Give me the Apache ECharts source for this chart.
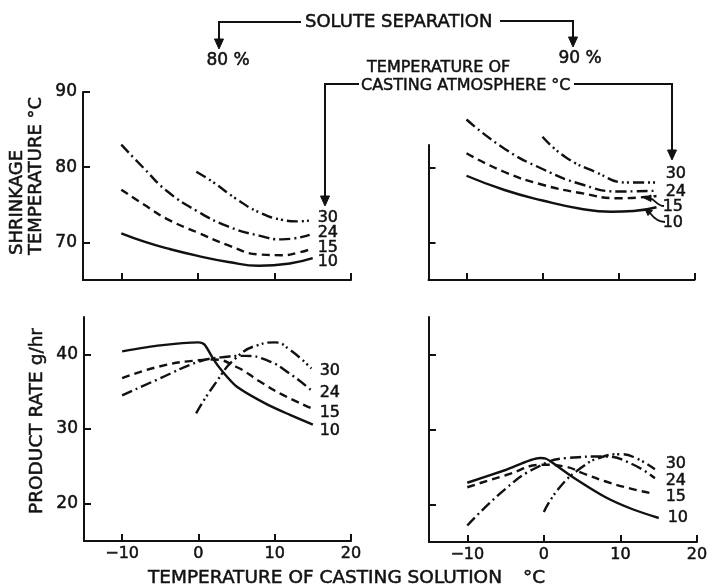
<!DOCTYPE html>
<html>
<head>
<meta charset="utf-8">
<script src="https://cdn.jsdelivr.net/npm/echarts@6/dist/echarts.min.js"></script>
<style>
  html, body { margin: 0; padding: 0; background: #fff; }
  #chart { width: 713px; height: 584px; }
</style>
</head>
<body>
<div id="chart"></div>
<script>
// temperature of casting atmosphere (°C), one curve each
const atmosTemps = ['10', '15', '24', '30'];
const xTicks = [-10, 0, 10, 20];
const shrinkTicks = [70, 80, 90];
const rateTicks = [20, 30, 40];

// shrinkage temperature, 80 % solute separation  [casting solution °C, shrinkage °C]
const shrink80_10 = [[-10, 71.2], [-7, 70.1], [-4, 69.2], [0, 68.2], [4, 67.4], [8, 66.9], [12, 67.2], [15, 67.9]];
const shrink80_15 = [[-10, 77.0], [-7, 75.0], [-4, 73.1], [0, 71.3], [4, 69.6], [8, 68.4], [11, 68.3], [13, 68.6], [15, 69.2]];
const shrink80_24 = [[-10, 83.0], [-7, 79.8], [-4, 76.8], [0, 74.1], [4, 72.1], [8, 70.9], [11, 70.4], [14.6, 71.0]];
const shrink80_30 = [[-0.2, 79.4], [2, 78.0], [5, 75.8], [8, 74.0], [11, 73.0], [13, 72.8], [14.6, 72.9]];

// shrinkage temperature, 90 % solute separation
const shrink90_10 = [[-10, 78.9], [-5, 77.0], [0, 75.6], [5, 74.5], [9, 74.1], [12, 74.2], [15, 74.7]];
const shrink90_15 = [[-10, 81.9], [-5, 79.4], [0, 77.7], [5, 76.6], [10, 75.9], [15, 76.2]];
const shrink90_24 = [[-10, 86.4], [-5, 82.5], [0, 79.8], [5, 77.8], [10, 76.8], [15, 76.9]];
const shrink90_30 = [[0, 84.1], [3, 81.4], [7, 79.4], [11, 78.0], [15, 78.0]];

// product rate g/hr, 80 % solute separation
const rate80_10 = [[-10, 40.4], [-5, 41.2], [0, 41.6], [0.8, 41.3], [2, 39.3], [3, 37.9], [5, 35.7], [9, 33.3], [12, 31.9], [15, 30.6]];
const rate80_15 = [[-10, 36.8], [-5, 38.4], [0, 39.2], [2, 39.3], [5, 38.3], [8, 36.4], [11, 34.6], [15, 32.7]];
const rate80_24 = [[-10, 34.5], [-5, 36.8], [0, 39.0], [3, 39.6], [6, 39.8], [9, 39.2], [12, 37.4], [15, 35.0]];
const rate80_30 = [[-0.3, 32.1], [2, 35.8], [5, 39.6], [8, 41.3], [10, 41.6], [12, 40.6], [14.8, 38.1]];

// product rate g/hr, 90 % solute separation
const rate90_10 = [[-10, 22.9], [-5, 24.6], [-0.5, 26.2], [0.3, 26.1], [1.5, 25.3], [4, 23.5], [8, 21.0], [11.5, 19.4], [15, 18.2]];
const rate90_15 = [[-10, 22.3], [-5, 23.9], [0, 25.3], [3, 25.0], [5, 24.2], [8, 23.1], [11, 22.2], [14, 21.5]];
const rate90_24 = [[-10, 17.2], [-5, 22.1], [-1, 24.9], [3, 26.2], [8, 26.4], [11.5, 25.4], [14.5, 23.5]];
const rate90_30 = [[0, 19.0], [2, 22.2], [5, 25.0], [7.5, 26.3], [10, 26.7], [12, 26.2], [14.5, 24.7]];

const FONT = 'DejaVu Sans';
const INK = '#111';

// dash patterns for 10 / 15 / 24 / 30
const dashes = ['solid', [8, 5], [11, 4, 2, 4], [11, 4, 2, 3, 2, 4]];

function xAxisCfg(gridIndex, showLabel) {
  return {
    type: 'value', gridIndex: gridIndex, min: -15, max: 20,
    axisLine: { show: true, onZero: false, lineStyle: { color: INK, width: 2 } },
    axisTick: { show: true, inside: true, length: 7, customValues: xTicks, lineStyle: { color: INK, width: 2 } },
    axisLabel: {
      show: showLabel, customValues: xTicks, margin: 5, color: INK, fontSize: 16, fontFamily: FONT,
      textBorderColor: INK, textBorderWidth: 0.5,
      formatter: v => (v < 0 ? '\u2212' + Math.abs(v) : String(v))
    },
    splitLine: { show: false }
  };
}

function yAxisCfg(gridIndex, min, max, ticks, showLabel) {
  return {
    type: 'value', gridIndex: gridIndex, min: min, max: max,
    axisLine: { show: true, onZero: false, lineStyle: { color: INK, width: 2 } },
    axisTick: { show: true, inside: true, length: 7, customValues: ticks, lineStyle: { color: INK, width: 2 } },
    axisLabel: {
      show: showLabel, customValues: ticks, margin: 6, color: INK, fontSize: 17, fontFamily: FONT,
      textBorderColor: INK, textBorderWidth: 0.5
    },
    splitLine: { show: false }
  };
}

function curve(name, data, idx, k, smooth) {
  return {
    name: name, type: 'line', xAxisIndex: idx, yAxisIndex: idx, data: data,
    smooth: smooth, showSymbol: false, clip: false, silent: true,
    lineStyle: { color: INK, width: 2.4, type: dashes[k] }
  };
}

const panels = [
  [shrink80_10, shrink80_15, shrink80_24, shrink80_30],
  [shrink90_10, shrink90_15, shrink90_24, shrink90_30],
  [rate80_10, rate80_15, rate80_24, rate80_30],
  [rate90_10, rate90_15, rate90_24, rate90_30]
];
const series = [];
panels.forEach((set, p) => set.forEach((d, k) => {
  // the 10 °C product-rate curves have a sharp knee, so smooth them less
  const s = (p >= 2 && k === 0) ? 0.25 : 0.5;
  series.push(curve(atmosTemps[k], d, p, k, s));
}));

function txt(x, y, text, size, align, rot) {
  return {
    type: 'text', x: x, y: y, rotation: rot || 0, silent: true,
    style: {
      text: text, fill: INK, stroke: INK, lineWidth: 0.5,
      font: size + 'px "' + FONT + '"', textAlign: align || 'left', textVerticalAlign: 'middle'
    }
  };
}
function pline(points) {
  return { type: 'polyline', silent: true, shape: { points: points }, style: { stroke: INK, lineWidth: 2, fill: null } };
}
function head(points) {
  return { type: 'polygon', silent: true, shape: { points: points }, style: { fill: INK, stroke: INK, lineWidth: 1 } };
}

// curve labels: [right edge x, centre y] for 10, 15, 24, 30 in each panel
const labelSpots = [
  [[338, 262], [338, 247.5], [338, 232.5], [338, 217.5]],
  [[683, 223.3], [683, 206.7], [686, 191.5], [686, 173.5]],
  [[340, 431], [340, 412.5], [340, 392.5], [340, 371]],
  [[688, 517.5], [686, 497], [686, 481], [686, 464]]
];
const curveLabels = [];
labelSpots.forEach(spots => spots.forEach((s, k) => curveLabels.push(txt(s[0], s[1], atmosTemps[k], 16, 'right'))));

const graphics = curveLabels.concat([
  txt(305, 22, 'SOLUTE SEPARATION', 18),
  pline([[301, 22], [219, 22], [219, 41]]),
  head([[214.5, 39], [223.5, 39], [219, 49]]),
  pline([[500, 21], [573, 21], [573, 39]]),
  head([[568.5, 37], [577.5, 37], [573, 47]]),
  txt(228, 61, '80 %', 17, 'center'),
  txt(580, 59, '90 %', 17, 'center'),
  txt(367, 67.5, 'TEMPERATURE OF', 16),
  txt(361, 86, 'CASTING ATMOSPHERE \u00B0C', 16),
  pline([[359, 84], [325, 84], [325, 198]]),
  head([[320.5, 196], [329.5, 196], [325, 206]]),
  pline([[574, 84], [672, 84], [672, 152]]),
  head([[667.5, 150], [676.5, 150], [672, 160]]),
  {
    type: 'bezierCurve', silent: true,
    shape: { x1: 664, y1: 206, cpx1: 657, cpy1: 206, cpx2: 655, cpy2: 199, x2: 650, y2: 198.5 },
    style: { stroke: INK, lineWidth: 1.8, fill: null }
  },
  head([[644, 198], [651, 195], [651, 201.5]]),
  {
    type: 'bezierCurve', silent: true,
    shape: { x1: 665, y1: 222, cpx1: 657, cpy1: 222, cpx2: 653, cpy2: 217, x2: 650, y2: 213 },
    style: { stroke: INK, lineWidth: 1.8, fill: null }
  },
  head([[645, 209], [652.5, 210.5], [648, 215.5]]),
  txt(17.5, 255, 'SHRINKAGE', 18, 'left', Math.PI / 2),
  txt(36.5, 255, 'TEMPERATURE \u00B0C', 18, 'left', Math.PI / 2),
  txt(37, 421, 'PRODUCT RATE g/hr', 18.5, 'center', Math.PI / 2),
  txt(148, 578, 'TEMPERATURE OF CASTING SOLUTION', 18.5),
  txt(523, 578, '\u00B0C', 18.5)
]);

const chart = echarts.init(document.getElementById('chart'), null, { renderer: 'canvas' });
chart.setOption({
  animation: false,
  backgroundColor: '#fff',
  textStyle: { fontFamily: FONT },
  grid: [
    { left: 83, top: 92, width: 268, height: 188 },
    { left: 428.5, top: 145, width: 266, height: 135 },
    { left: 84, top: 317, width: 267, height: 224 },
    { left: 429, top: 317, width: 268, height: 225 }
  ],
  xAxis: [xAxisCfg(0, false), xAxisCfg(1, false), xAxisCfg(2, true), xAxisCfg(3, true)],
  yAxis: [
    yAxisCfg(0, 65, 90, shrinkTicks, true),
    yAxisCfg(1, 65, 83, shrinkTicks.slice(0, 2), false),
    yAxisCfg(2, 15, 45, rateTicks, true),
    yAxisCfg(3, 15, 45, rateTicks, false)
  ],
  series: series,
  graphic: graphics
});
</script>
</body>
</html>
